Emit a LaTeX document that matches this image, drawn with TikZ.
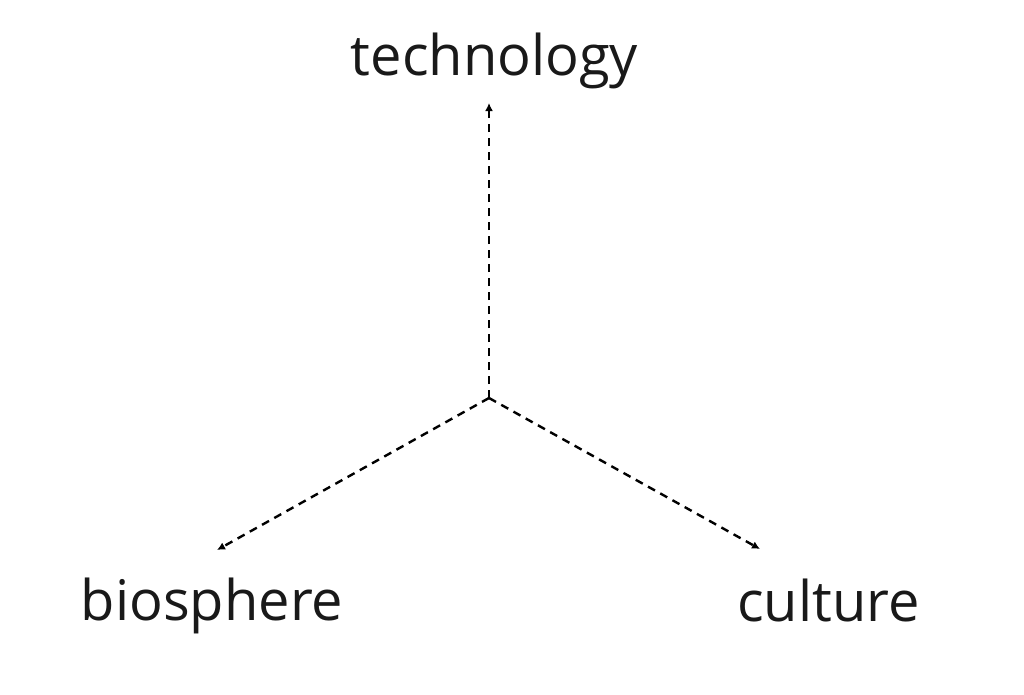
\documentclass[tikz,border=0pt]{standalone}
\usepackage{fontspec}
\setmainfont{Open Sans}
\usetikzlibrary{arrows.meta}
\begin{document}
\begin{tikzpicture}[x=1pt,y=-1pt,
  lbl/.style={anchor=base,inner sep=0pt,font=\fontsize{56}{56}\selectfont,text=black!90},
  conn/.style={line width=2.4pt,dash pattern=on 8pt off 6pt,-{Latex[length=8pt,width=8pt]}}]
\useasboundingbox (0,0) rectangle (1024,694);
\coordinate (c) at (489,398);
\coordinate (tt) at (489,103);
\coordinate (bt) at (217,550);
\coordinate (ct) at (760,549);
\node[lbl] (tech) at (494.5,75) {technology};
\node[lbl] (bio) at (212,620) {biosphere};
\node[lbl] (cul) at (828.5,621) {culture};
\draw[conn] (c) -- (tt);
\draw[conn] (c) -- (bt);
\draw[conn] (c) -- (ct);
\end{tikzpicture}
\end{document}
